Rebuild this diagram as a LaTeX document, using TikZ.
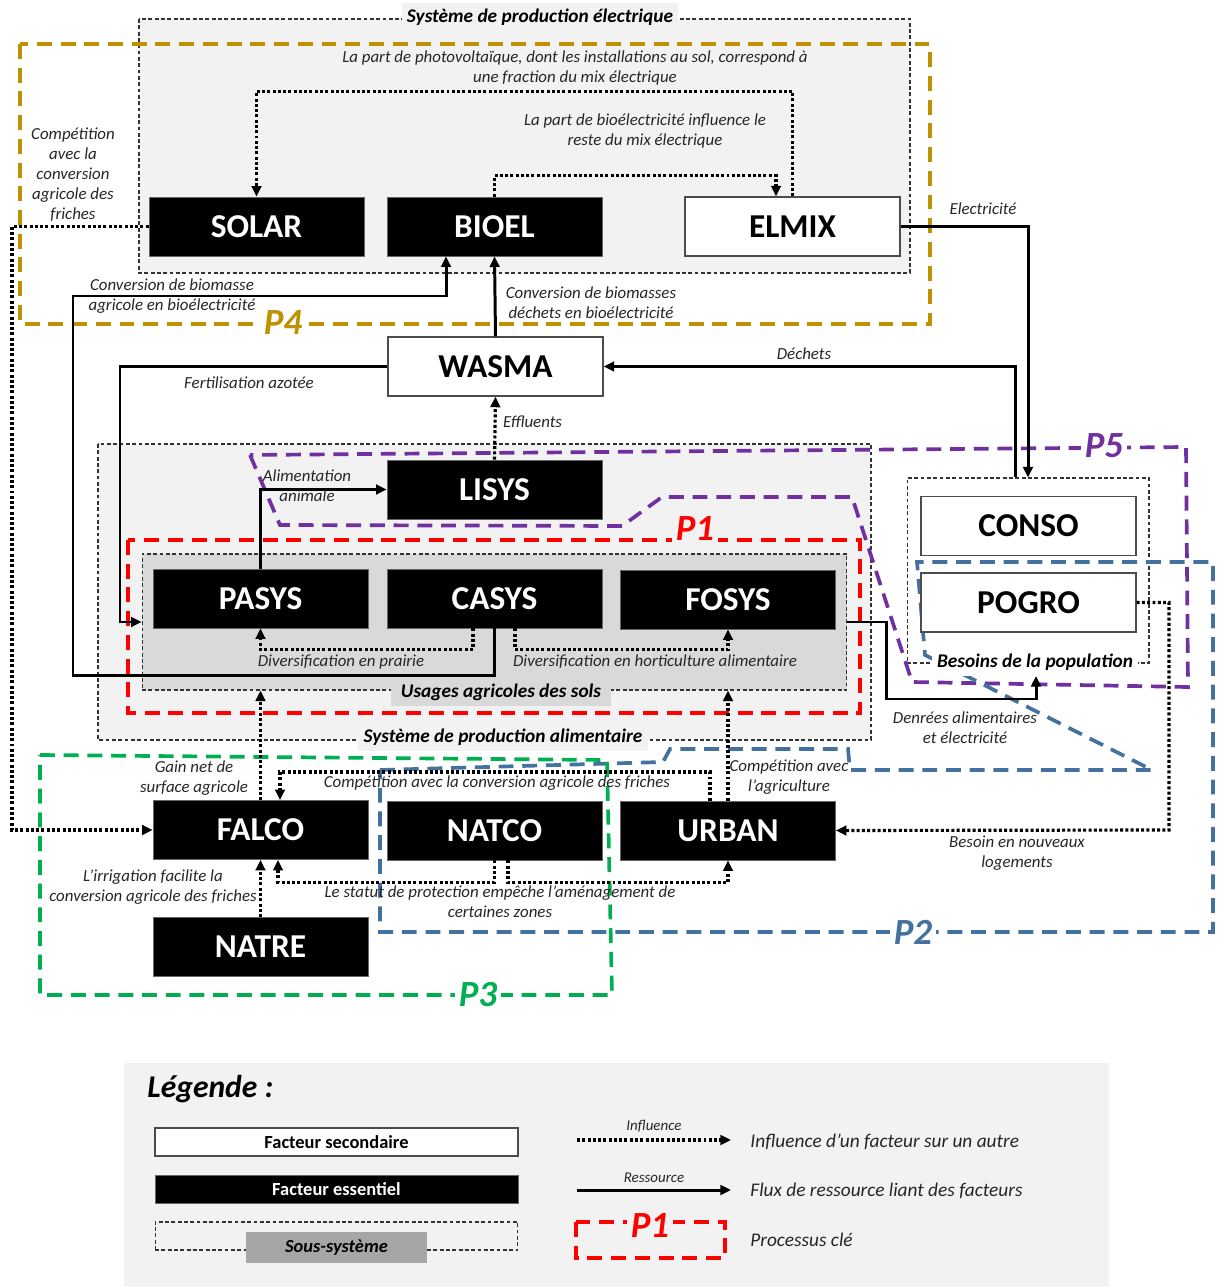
\documentclass[tikz,border=0pt]{standalone}
\usepackage{fontspec}
\setmainfont{Carlito}
\usepackage{tikz}
\usetikzlibrary{arrows.meta,positioning}
\definecolor{pgold}{RGB}{191,144,0}
\definecolor{pred}{RGB}{255,0,0}
\definecolor{ppurple}{RGB}{112,48,160}
\definecolor{pblue}{RGB}{68,114,160}
\definecolor{pgreen}{RGB}{0,176,80}
\definecolor{fondclair}{RGB}{242,242,242}
\definecolor{fondusage}{RGB}{217,217,217}
\definecolor{fondlegende}{RGB}{166,166,166}
\newcommand{\boxfont}{\fontsize{19}{22}\selectfont\bfseries}
\newcommand{\lblfont}{\fontsize{9.6}{11.4}\selectfont\itshape}
\newcommand{\titrefont}{\fontsize{11}{12}\selectfont\bfseries\itshape}
\newcommand{\pfont}{\fontsize{21}{24}\selectfont\bfseries\itshape}
\tikzset{every picture/.style={line width=0.5pt}}
\tikzstyle{essentiel}=[rectangle,fill=black,draw=black!60,text=white,minimum width=4.3cm,minimum height=1.18cm,font=\boxfont]
\tikzstyle{secondaire}=[rectangle,fill=white,draw=black!70,line width=0.8pt,text=black,minimum width=4.3cm,minimum height=1.18cm,font=\boxfont]
\tikzstyle{ress}=[line width=1.7pt,-{Triangle[length=6pt,width=5.5pt]}]
\tikzstyle{infl}=[line width=1.8pt,dash pattern=on 1.7pt off 1.3pt,-{Triangle[length=6pt,width=5.5pt]}]
\tikzstyle{sousys}=[draw=black!80,dash pattern=on 2.2pt off 1.4pt,line width=0.6pt]
\tikzstyle{proc}=[line width=2.1pt,dash pattern=on 8.5pt off 5pt]
\tikzstyle{lbl}=[font=\lblfont,align=center,text=black!85,inner sep=1pt]
\tikzstyle{titre}=[font=\titrefont,inner sep=3pt]
\tikzstyle{plabel}=[font=\pfont,fill=white,inner sep=2pt]
\tikzstyle{legtxt}=[font=\fontsize{11}{13}\selectfont\itshape,text=black!85,anchor=west,inner sep=0pt]
\begin{document}
\begin{tikzpicture}[x=0.02cm,y=-0.02cm]
\useasboundingbox (0,0) rectangle (1217,1287);
\fill[white] (0,0) rectangle (1217,1287);
\draw[sousys,fill=fondclair] (98,444) rectangle (871,740);
\draw[sousys,fill=fondclair] (139,19) rectangle (910,273);
\node[sousys,fill=fondusage,minimum width=14.1cm,minimum height=2.72cm] (USAGES) at (494.5,622) {};
\node[sousys,fill=white,minimum width=4.84cm,minimum height=3.7cm] (POP) at (1028,570.5) {};
\fill[fondclair] (124,1063) rectangle (1109,1287);

\draw[proc,pgold] (20,44) rectangle (930,324);
\draw[proc,pred] (128,540) rectangle (860,713);
\draw[proc,ppurple] (250,455) -- (280,525) -- (622,526) -- (662,497) -- (852,497) -- (912,682) -- (1188,687) -- (1186,447) -- cycle;
\draw[proc,pblue] (380,770) -- (663,762) -- (670,749) -- (848,749) -- (850,770) -- (1152,770) -- (925,655) -- (917,562) -- (1213,562) -- (1213,932) -- (380,932) -- cycle;
\draw[proc,pgreen] (40,755) -- (607,760) -- (612,995) -- (40,995) -- cycle;

\node[essentiel] (SOLAR) at (256.5,226.5) {SOLAR};
\node[essentiel] (BIOEL) at (494.5,226.5) {BIOEL};
\node[secondaire] (ELMIX) at (792.5,226.5) {ELMIX};
\node[secondaire] (WASMA) at (495.5,366.5) {WASMA};
\node[essentiel] (LISYS) at (494.5,489.5) {LISYS};
\node[essentiel] (PASYS) at (260.5,598.5) {PASYS};
\node[essentiel] (CASYS) at (494.5,598.5) {CASYS};
\node[essentiel] (FOSYS) at (728,599.5) {FOSYS};
\node[secondaire] (CONSO) at (1028.5,526) {CONSO};
\node[secondaire] (POGRO) at (1028.5,602.5) {POGRO};
\node[essentiel] (FALCO) at (260.5,830) {FALCO};
\node[essentiel] (NATCO) at (494.5,830.5) {NATCO};
\node[essentiel] (URBAN) at (728,830.5) {URBAN};
\node[essentiel] (NATRE) at (260.5,947) {NATRE};

\node[titre,fill=fondclair] (tElec) at (540,17) {Système de production électrique};
\node[titre,fill=fondusage,minimum width=4.4cm,minimum height=0.56cm] (tUsage) at (501,692) {Usages agricoles des sols};
\node[titre,fill=fondclair] (tAlim) at (503,737) {Système de production alimentaire};
\node[titre,fill=white] (BESOINS) at (1035,662) {Besoins de la population};

\node[plabel,text=pgold] (P4) at (283,323) {P4};
\node[plabel,text=pred,fill=fondclair] (P1) at (695,529) {P1};
\node[plabel,text=ppurple] (P5) at (1104,446) {P5};
\node[plabel,text=pblue] (P2) at (913,932) {P2};
\node[plabel,text=pgreen] (P3) at (478,995) {P3};

\draw[infl] (ELMIX.north) -- ++(0,-105) -| (SOLAR.north);
\draw[infl] (BIOEL.north) -- ++(0,-21) -| (776,0 |- ELMIX.north);
\draw[infl] (SOLAR.west) -| (12,830) -- (FALCO.west);
\draw[ress] (ELMIX.east) -| (1028,0 |- POP.north);
\draw[ress] (WASMA.north) -- (BIOEL.south);
\draw[ress] (CASYS.south) -- ++(0,47) -| (73,296) -| (446,0 |- BIOEL.south);
\draw[ress] (WASMA.west) -| (120,622) -- (USAGES.west);
\draw[ress] (1015,0 |- POP.north) |- (WASMA.east);
\draw[infl] (LISYS.north) -- (WASMA.south);
\draw[ress] (PASYS.north) |- (LISYS.west);
\draw[infl] (473,0 |- CASYS.south) -- ++(0,21) -| (PASYS.south);
\draw[infl] (515,0 |- CASYS.south) -- ++(0,21) -| (FOSYS.south);
\draw[ress] (USAGES.east) -| (886,699) -| (1036,0 |- BESOINS.south);
\draw[infl] (POGRO.east) -| (1169,830) -- (URBAN.east);
\draw[infl] (FALCO.north) -- (FALCO.north |- USAGES.south);
\draw[infl] (URBAN.north) -- (URBAN.north |- USAGES.south);
\draw[infl] (710,0 |- URBAN.north) |- (280,772) -- (280,0 |- FALCO.north);
\draw[infl] (NATCO.south) -- ++(0,22) -| (278,0 |- FALCO.south);
\draw[infl] (508,0 |- NATCO.south) -- ++(0,22) -| (URBAN.south);
\draw[infl] (NATRE.north) -- (FALCO.south);

\node[lbl] (lPV) at (575,68) {La part de photovoltaïque, dont les installations au sol, correspond à\\une fraction du mix électrique};
\node[lbl] (lBio) at (645,131) {La part de bioélectricité influence le\\reste du mix électrique};
\node[lbl] (lComp) at (73,175) {Compétition\\avec la\\conversion\\agricole des\\friches};
\node[lbl] (lElec) at (983,209) {Electricité};
\node[lbl] (lConvA) at (172,296) {Conversion de biomasse\\agricole en bioélectricité};
\node[lbl] (lConvD) at (591,303) {Conversion de biomasses\\déchets en bioélectricité};
\node[lbl] (lDech) at (804,354) {Déchets};
\node[lbl] (lFert) at (249,383) {Fertilisation azotée};
\node[lbl,anchor=west] (lEffl) at (501,422) {Effluents};
\node[lbl] (lAlim) at (307,486) {Alimentation\\animale};
\node[lbl] (lPrai) at (341,662) {Diversification en prairie};
\node[lbl] (lHort) at (655,662) {Diversification en horticulture alimentaire};
\node[lbl] (lDenr) at (965,728) {Denrées alimentaires\\et électricité};
\node[lbl] (lGain) at (194,778) {Gain net de\\surface agricole};
\node[lbl] (lAgri) at (789,777) {Compétition avec\\l’agriculture};
\node[lbl] (lFri) at (497,783) {Compétition avec la conversion agricole des friches};
\node[lbl] (lLog) at (1017,853) {Besoin en nouveaux\\logements};
\node[lbl] (lIrr) at (153,887) {L’irrigation facilite la\\conversion agricole des friches};
\node[lbl] (lStat) at (500,902) {Le statut de protection empêche l’aménagement de\\certaines zones};

\node[font=\fontsize{18}{20}\selectfont\bfseries\itshape,anchor=west,inner sep=0pt] (LEG) at (147,1089) {Légende :};
\node[secondaire,minimum width=7.26cm,minimum height=0.56cm,font=\fontsize{10.5}{12}\selectfont\bfseries] (LSEC) at (336.5,1142) {Facteur secondaire};
\node[essentiel,minimum width=7.26cm,minimum height=0.56cm,font=\fontsize{10.5}{12}\selectfont\bfseries] (LESS) at (336.5,1189.5) {Facteur essentiel};
\node[sousys,minimum width=7.26cm,minimum height=0.56cm] (LSOUS) at (336.5,1236) {};
\node[fill=fondlegende,minimum width=3.62cm,minimum height=0.62cm,font=\fontsize{10.5}{12}\selectfont\bfseries\itshape] (LSOUSt) at (336.5,1247.5) {Sous-système};
\coordinate (i1) at (577,1140);
\coordinate (i2) at (731,1140);
\coordinate (r1) at (577,1190);
\coordinate (r2) at (731,1190);
\draw[infl] (i1) -- node[above=0pt,font=\fontsize{8.5}{9}\selectfont\itshape,text=black!85] (lInf) {Influence} (i2);
\draw[ress] (r1) -- node[above=0pt,font=\fontsize{8.5}{9}\selectfont\itshape,text=black!85] (lRes) {Ressource} (r2);
\draw[proc,pred] (576,1222) rectangle (725,1258);
\node[plabel,text=pred,fill=fondclair] (LP1) at (650,1226) {P1};
\node[legtxt] (tInf) at (750,1142) {Influence d’un facteur sur un autre};
\node[legtxt] (tRes) at (750,1191) {Flux de ressource liant des facteurs};
\node[legtxt] (tPro) at (750,1240) {Processus clé};
\end{tikzpicture}
\end{document}
